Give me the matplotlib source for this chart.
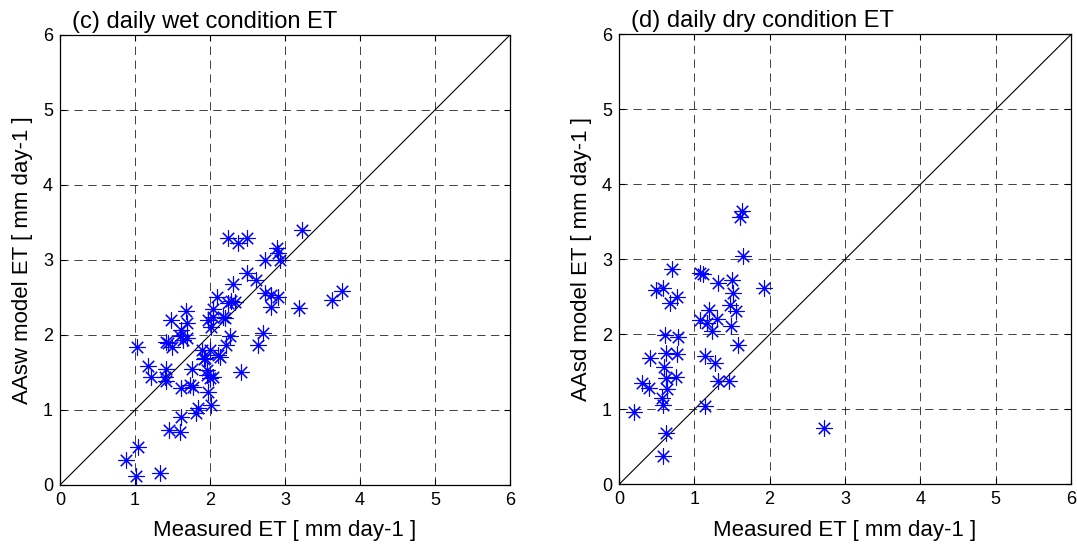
import matplotlib
matplotlib.use("Agg")
import matplotlib.pyplot as plt

plt.rcParams['font.family'] = ['Liberation Sans', 'DejaVu Sans']
plt.rcParams['lines.scale_dashes'] = False

# ---- data: panel (c) daily wet condition ----
wet_measured = [0.88, 1.01, 1.04, 1.33, 1.46, 1.60, 1.62, 1.82, 1.84, 2.02,
                1.98, 1.62, 1.73, 1.78, 1.42, 1.22, 1.40, 1.96, 2.00, 2.04,
                2.42, 1.18, 1.42, 1.76, 2.13, 1.92, 1.90, 2.00, 1.03, 1.49,
                2.22, 2.64, 1.42, 1.60, 1.64, 1.69, 2.27, 2.71, 2.02, 1.62,
                1.70, 1.48, 1.98, 2.04, 2.18, 1.68, 2.04, 2.24, 2.34, 2.09,
                3.19, 2.82, 3.63, 3.76, 2.73, 2.82, 2.91, 2.31, 2.62, 2.50,
                2.73, 2.93, 2.91, 2.89, 2.24, 2.37, 2.49, 3.23, 2.28, 2.11,
                1.93, 1.96, 1.44, 2.20]
wet_model = [0.33, 0.12, 0.51, 0.16, 0.73, 0.71, 0.90, 0.96, 1.02, 1.06,
             1.24, 1.29, 1.33, 1.31, 1.38, 1.44, 1.44, 1.47, 1.42, 1.44,
             1.50, 1.59, 1.55, 1.55, 1.71, 1.68, 1.80, 1.80, 1.84, 1.84,
             1.87, 1.87, 1.91, 1.98, 1.93, 1.96, 1.98, 2.02, 2.11, 2.07,
             2.16, 2.20, 2.20, 2.24, 2.24, 2.32, 2.35, 2.43, 2.44, 2.50,
             2.36, 2.37, 2.46, 2.58, 2.56, 2.53, 2.51, 2.68, 2.73, 2.83,
             3.00, 3.00, 3.09, 3.16, 3.29, 3.22, 3.29, 3.40, 2.45, 1.73,
             1.69, 1.53, 1.89, 2.22]

# ---- data: panel (d) daily dry condition ----
dry_measured = [1.63, 1.61, 1.65, 0.71, 1.08, 1.12, 1.31, 1.50, 1.93, 0.49,
                0.59, 1.51, 0.77, 0.68, 1.47, 1.55, 1.19, 1.08, 1.17, 1.30,
                1.49, 1.23, 0.61, 0.79, 1.58, 0.41, 0.63, 0.77, 1.14, 1.27,
                0.60, 0.62, 0.76, 0.31, 0.40, 1.31, 1.46, 0.64, 0.57, 0.58,
                1.14, 0.20, 0.63, 0.59, 2.72]
dry_model = [3.64, 3.56, 3.04, 2.87, 2.82, 2.81, 2.68, 2.72, 2.62, 2.59,
             2.62, 2.55, 2.50, 2.42, 2.39, 2.31, 2.33, 2.19, 2.15, 2.20,
             2.11, 2.04, 1.99, 1.96, 1.86, 1.68, 1.75, 1.74, 1.71, 1.62,
             1.56, 1.42, 1.43, 1.35, 1.29, 1.38, 1.38, 1.27, 1.15, 1.06,
             1.05, 0.96, 0.69, 0.38, 0.75]

ticks = [0, 1, 2, 3, 4, 5, 6]
titles = ["(c) daily wet condition ET", "(d) daily dry condition ET"]
ylabels = ["AAsw model ET [ mm day-1 ]", "AAsd model ET [ mm day-1 ]"]
xlabel = "Measured ET [ mm day-1 ]"

fig = plt.figure(figsize=(10.77, 5.5), dpi=100)
positions = [[0.0557, 0.1182, 0.4178, 0.8182],
             [0.5747, 0.1191, 0.4197, 0.8182]]
datasets = [(wet_measured, wet_model), (dry_measured, dry_model)]

for pos, (xs, ys), title, ylab in zip(positions, datasets, titles, ylabels):
    ax = fig.add_axes(pos)
    ax.set_xlim(0, 6)
    ax.set_ylim(0, 6)
    ax.set_xticks(ticks)
    ax.set_yticks(ticks)
    ax.grid(True, color='black', linestyle=(0, (6, 4)), linewidth=0.7, alpha=0.75)
    ax.set_axisbelow(True)
    ax.plot([0, 6], [0, 6], color='black', linewidth=0.8)
    ax.plot(xs, ys, linestyle='none', marker=(8, 2, 0), markersize=11.5,
            markeredgecolor='blue', markerfacecolor='blue', markeredgewidth=0.8)
    ax.tick_params(direction='in', length=4, width=0.8, labelsize=13,
                   top=True, right=True, pad=5)
    for s in ax.spines.values():
        s.set_linewidth(0.9)
    ax.set_xlabel(xlabel, fontsize=16, labelpad=8)
    ax.set_ylabel(ylab, fontsize=16, labelpad=7)
    ax.text(0.027, 1.005, title, transform=ax.transAxes, fontsize=17,
            ha='left', va='bottom')

fig.savefig("out.png", dpi=100)
